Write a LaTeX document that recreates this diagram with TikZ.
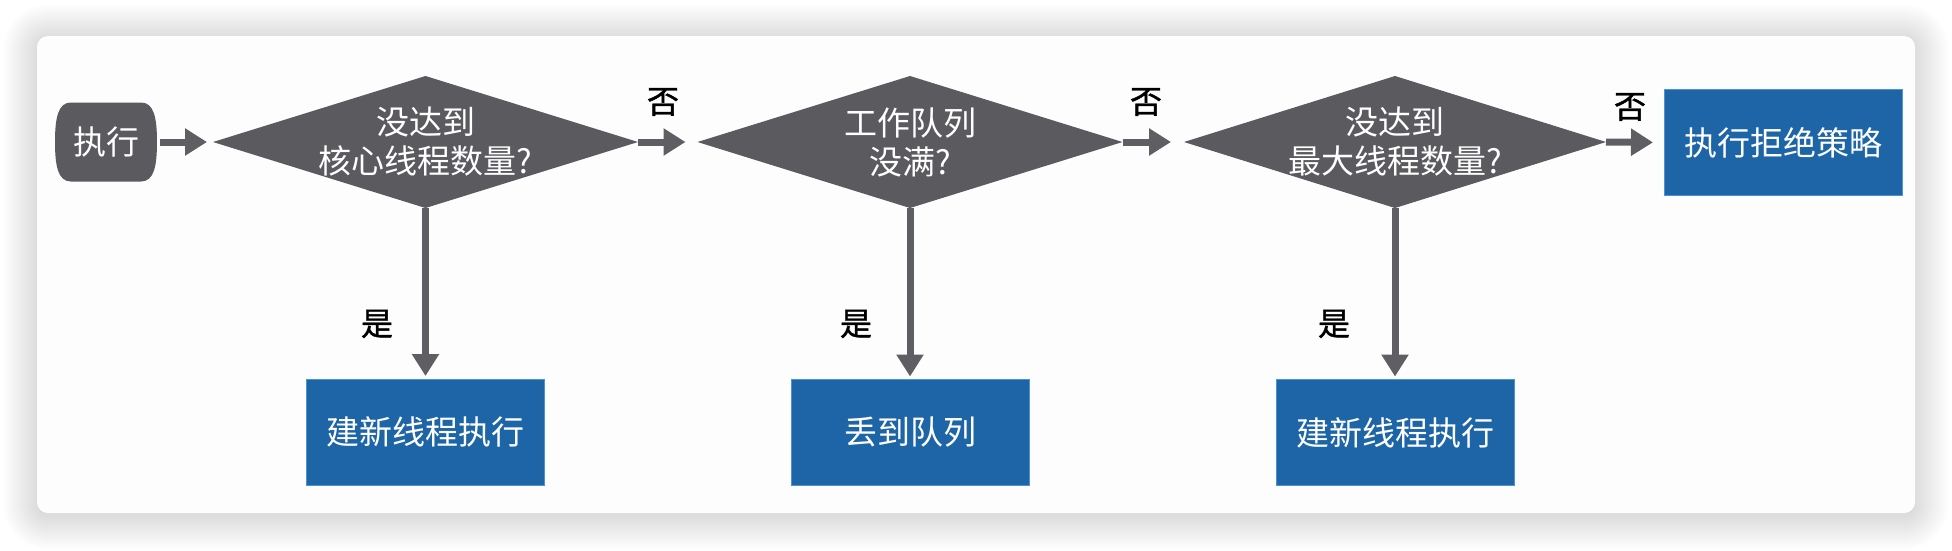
\documentclass[tikz,border=0pt]{standalone}
\usepackage{fontspec}
\newfontfamily\cjk{Noto Sans CJK SC}
\newfontfamily\cjkb[FakeBold=1.2]{Noto Sans CJK SC}
\usetikzlibrary{shapes.geometric,arrows.meta,calc}
\definecolor{dk}{HTML}{5B5A5F}
\definecolor{ar}{HTML}{5F5F63}
\definecolor{bl}{HTML}{1D65A6}
\definecolor{blb}{HTML}{4C93D3}
\definecolor{cardc}{HTML}{FCFDFC}
\begin{document}
\begin{tikzpicture}[x=1pt,y=-1pt,
  dia/.style={diamond, fill=dk, minimum width=425pt, minimum height=132pt, inner sep=0pt, outer sep=0pt},
  dtext/.style={text=white, font=\cjk\fontsize{33}{39}\selectfont, align=center, inner sep=0pt},
  bx/.style={rectangle, fill=bl, draw=blb, line width=1pt, minimum width=238pt, minimum height=106pt, text=white, font=\cjk\fontsize{33}{39}\selectfont, outer sep=0pt},
  lab/.style={text=black, font=\cjkb\fontsize{32}{36}\selectfont, inner sep=0pt},
  arr/.style={draw=ar, line width=7pt, -{Triangle[length=22pt,width=26pt]}},
]
\useasboundingbox (0,0) rectangle (1952,550);
\fill[white] (0,0) rectangle (1952,550);
% soft shadow around the card
\foreach \i in {1,...,34}{
  \pgfmathsetmacro\rr{11+\i}
  \fill[black, opacity=0.0045, rounded corners=\rr pt] (37-\i,38-\i) rectangle (1915+\i,516+\i);
}
\fill[cardc, rounded corners=11pt] (37,36) rectangle (1915,513);

% start terminal
\node[minimum width=102pt, minimum height=79pt, inner sep=0pt, outer sep=0pt] (t) at (106,142) {};
\fill[dk] ([xshift=16pt]t.north west) -- ([xshift=-16pt]t.north east)
  .. controls ([xshift=-3pt]t.north east) and ([yshift=24pt]t.east) .. (t.east)
  .. controls ([yshift=-24pt]t.east) and ([xshift=-3pt]t.south east) .. ([xshift=-16pt]t.south east)
  -- ([xshift=16pt]t.south west)
  .. controls ([xshift=3pt]t.south west) and ([yshift=-24pt]t.west) .. (t.west)
  .. controls ([yshift=24pt]t.west) and ([xshift=3pt]t.north west) .. cycle;
\node[dtext] (tt) at (t) {执行};

% decisions
\node[dia] (d1) at (425.5,142) {};
\node[dtext] (d1t) at (d1) {没达到\\核心线程数量?};
\node[dia] (d2) at (910,142) {};
\node[dtext] (d2t) at (d2) {工作队列\\没满?};
\node[dia, minimum width=422pt] (d3) at (1395,142) {};
\node[dtext] (d3t) at (d3) {没达到\\最大线程数量?};

% boxes
\node[bx] (r) at (1783,142.5) {执行拒绝策略};
\node[bx] (b1) at (425.5,432) {建新线程执行};
\node[bx] (b2) at (910,432.5) {丢到队列};
\node[bx] (b3) at (1395,432.5) {建新线程执行};

% connectors
\draw[arr, shorten <=3pt, shorten >=6pt] (t.east) -- (d1.west);
\draw[arr, shorten >=12pt] (d1.east) -- (d2.west);
\draw[arr, shorten >=13pt] (d2.east) -- (d3.west);
\draw[arr, shorten >=11pt] (d3.east) -- (r.west);
\draw[arr, shorten >=3pt] (d1.south) -- (b1.north);
\draw[arr, shorten >=3pt] (d2.south) -- (b2.north);
\draw[arr, shorten >=3pt] (d3.south) -- (b3.north);

% labels
\node[lab] (n1) at (663,102) {否};
\node[lab] (n2) at (1146,102) {否};
\node[lab] (n3) at (1630,107) {否};
\node[lab] (y1) at (377,324) {是};
\node[lab] (y2) at (856,324) {是};
\node[lab] (y3) at (1334,324) {是};
\end{tikzpicture}
\end{document}
